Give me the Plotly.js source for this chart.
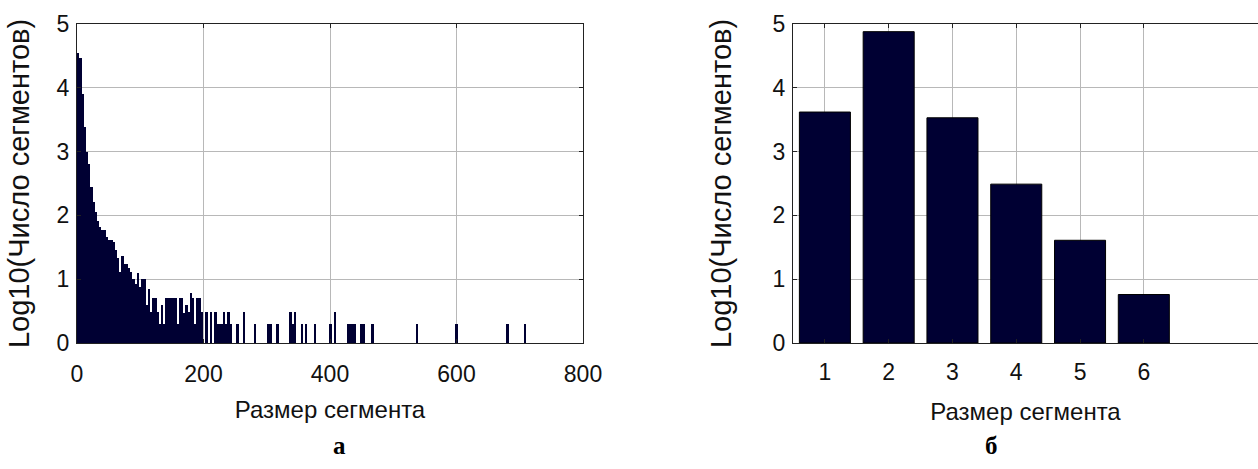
<!DOCTYPE html>
<html>
<head>
<meta charset="utf-8">
<script src="https://cdn.plot.ly/plotly-3.0.1.min.js"></script>
<style>html,body{margin:0;padding:0;background:#fff;}#chart{width:1258px;height:469px;}</style>
</head>
<body>
<div id="chart"></div>
<script>
// ---- Panel "а": histogram of segment sizes (bin width 3.5), log10 counts ----
const binWidthA = 3.5;
const binIndexA = [0,1,2,3,4,5,6,7,8,9,10,11,12,13,14,15,16,17,18,19,20,21,22,23,24,25,26,27,28,29,
  30,31,32,33,34,35,36,37,38,39,40,41,42,43,44,45,46,47,48,49,50,51,52,53,54,55,56,58,60,62,63,64,65,66,67,68,69,
  72,75,80,86,87,90,96,97,98,101,103,107,114,116,122,123,124,125,128,129,133,153,171,194,202];
const logCountA = [4.55,4.46,3.9,3.38,2.99,2.81,2.45,2.21,2.05,1.92,1.82,1.77,1.77,1.66,1.62,1.62,1.58,1.45,1.34,1.11,
  1.37,1.24,1.245,1.17,1.11,1.0,0.93,1.1,0.88,1.0,
  1.0,0.6,0.845,0.48,0.7,0.7,0.48,0.3,0.6,0.3,0.7,0.7,0.7,0.7,0.7,0.3,0.7,0.7,0.47,0.6,0.48,0.78,0.7,0.3,0.7,0.7,0.48,0.48,0.48,0.48,0.3,0.3,0.3,0.48,0.3,0.48,0.3,
  0.3,0.48,0.3,0.3,0.3,0.3,0.48,0.3,0.48,0.3,0.3,0.3,0.3,0.48,0.3,0.3,0.3,0.3,0.3,0.3,0.3,0.3,0.3,0.3,0.3];
const xTicksA = [0,200,400,600,800];

// ---- Panel "б": segment sizes 1..6 ----
const sizesB = [1,2,3,4,5,6];
const logCountB = [3.62,4.88,3.53,2.49,1.61,0.76];

const yTicks = [0,1,2,3,4,5];
const xTitle = 'Размер сегмента';
const yTitle = 'Log10(Число сегментов)';
const panelLabels = ['а','б'];

const barColor = '#000033';
const sans = 'Liberation Sans, Arial, sans-serif';
const tickFont = {family:sans, size:23, color:'#111'};
const xTitleFont = {family:sans, size:24, color:'#111'};
const yTitleFont = {family:sans, size:29, color:'#111'};

const W = 1258, H = 469;
const fx = p => p / W;
const fy = p => 1 - p / H;

const centersA = binIndexA.map(i => i * binWidthA + binWidthA / 2);

const traceA = {
  type:'bar', x: centersA, y: logCountA, width: binWidthA * 1.08,
  marker:{color:barColor, line:{width:0}},
  xaxis:'x', yaxis:'y', hoverinfo:'x+y'
};
const traceB = {
  type:'bar', x: sizesB, y: logCountB, width: 0.8,
  marker:{color:barColor, line:{color:'#000', width:1}},
  xaxis:'x2', yaxis:'y2', hoverinfo:'x+y'
};

const baseAxis = {
  showgrid:true, gridcolor:'#b8b8b8', gridwidth:1,
  zeroline:false, showline:true, linecolor:'#222', linewidth:1.2,
  ticks:'inside', ticklen:4, tickcolor:'#222', tickfont:tickFont,
  automargin:false, fixedrange:true
};

const labelFont = {family:'Liberation Serif, Times New Roman, serif', size:25, color:'#000', weight:'bold'};

const layout = {
  width: W, height: H,
  margin:{l:0, r:0, t:0, b:0},
  paper_bgcolor:'#fff', plot_bgcolor:'#fff',
  showlegend:false, bargap:0,
  xaxis: Object.assign({}, baseAxis, {
    domain:[fx(77), fx(583)], range:[0,800], tickvals:xTicksA, mirror:'ticks', anchor:'y',
    ticklabelstandoff:10,
    title:{text:xTitle, font:xTitleFont, standoff:15}
  }),
  yaxis: Object.assign({}, baseAxis, {
    domain:[fy(343), fy(24)], range:[0,5], tickvals:yTicks, mirror:'ticks', anchor:'x',
    ticklabelstandoff:2,
    title:{text:yTitle, font:yTitleFont, standoff:18}
  }),
  xaxis2: Object.assign({}, baseAxis, {
    domain:[fx(793), 1], range:[0.5,7.79], tickvals:sizesB, mirror:'ticks', anchor:'y2',
    ticklabelstandoff:8,
    title:{text:xTitle, font:xTitleFont, standoff:19}
  }),
  yaxis2: Object.assign({}, baseAxis, {
    domain:[fy(343), fy(24)], range:[0,5], tickvals:yTicks, mirror:false, anchor:'x2',
    ticklabelstandoff:2,
    title:{text:yTitle, font:yTitleFont, standoff:32}
  }),
  annotations:[
    {text:panelLabels[0], xref:'paper', yref:'paper', x:fx(331), y:fy(445), yanchor:'middle', showarrow:false, font:labelFont},
    {text:panelLabels[1], xref:'paper', yref:'paper', x:fx(1000), y:fy(445), yanchor:'middle', showarrow:false, font:labelFont}
  ]
};

Plotly.newPlot('chart', [traceA, traceB], layout, {displayModeBar:false, staticPlot:true});
</script>
</body>
</html>
